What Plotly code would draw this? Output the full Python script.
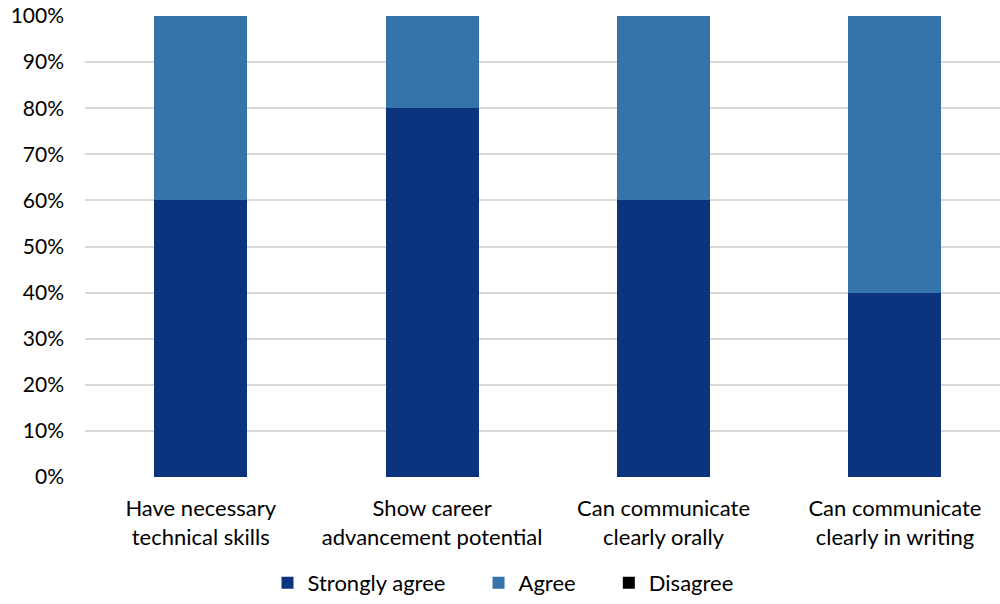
import plotly.graph_objects as go

categories = [
    "Have necessary<br>technical skills",
    "Show career<br>advancement potential",
    "Can communicate<br>clearly orally",
    "Can communicate<br>clearly in writing",
]
strongly_agree = [0.60, 0.80, 0.60, 0.40]
agree = [0.40, 0.20, 0.40, 0.60]
disagree = [0.0, 0.0, 0.0, 0.0]

y_ticks = [i / 10 for i in range(11)]
y_tick_labels = [f"{i * 10}%" for i in range(11)]

FONT = "Lato"
PAD = "\u00a0" * 5  # extra room after each legend entry
x_pos = list(range(len(categories)))

fig = go.Figure()
fig.add_trace(go.Bar(name="Strongly agree" + PAD, x=x_pos, y=strongly_agree,
                     marker_color="#0c347e", marker_line_width=0))
fig.add_trace(go.Bar(name="Agree" + PAD, x=x_pos, y=agree,
                     marker_color="#3474aa", marker_line_width=0))
fig.add_trace(go.Bar(name="Disagree", x=x_pos, y=disagree,
                     marker_color="#000000", marker_line_width=0))

fig.update_layout(
    barmode="stack",
    bargap=0.598,
    width=1000,
    height=604,
    margin=dict(l=85, r=0, t=16, b=127, autoexpand=False),
    plot_bgcolor="white",
    paper_bgcolor="white",
    font=dict(family=FONT, size=22, color="#000000"),
    showlegend=True,
    legend=dict(orientation="h", xref="container", x=0.503, xanchor="center",
                yref="container", y=-0.012, yanchor="bottom",
                font=dict(family=FONT, size=22, color="#000000"),
                traceorder="normal"),
    xaxis=dict(
        tickmode="array", tickvals=x_pos, ticktext=categories,
        range=[-0.5, 3.454], showgrid=False, zeroline=False,
        showline=False, ticks="", tickfont=dict(size=22),
        ticklabelstandoff=16, automargin=False,
    ),
    yaxis=dict(
        range=[0, 1], tickmode="array", tickvals=y_ticks, ticktext=y_tick_labels,
        showgrid=True, gridcolor="#d9d9d9", gridwidth=1.5,
        zeroline=False, showline=False, ticks="",
        tickfont=dict(size=21), ticklabelstandoff=20, automargin=False,
    ),
)

fig.write_html("out.html")
